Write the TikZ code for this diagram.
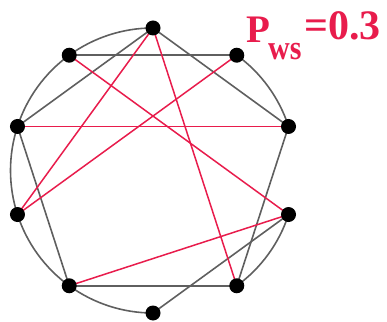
\documentclass[tikz,border=0pt]{standalone}
\usepackage{fontspec}
\setmainfont{Liberation Serif}
\usetikzlibrary{calc}
\definecolor{wsred}{RGB}{232,28,76}
\definecolor{wsgray}{RGB}{95,95,95}
\begin{document}
\begin{tikzpicture}[x=1pt,y=1pt,
  ring/.style={draw=wsgray,line width=1.6pt},
  rewired/.style={draw=wsred,line width=1.5pt},
  dot/.style={circle,fill=black,inner sep=0pt,minimum size=15pt},
  label/.style={text=wsred,inner sep=0pt,anchor=base west,font=\bfseries}]
\useasboundingbox (0,0) rectangle (387,321);
\coordinate (c) at (153,150.5);
\foreach \i/\a in {0/90,1/54,2/18,3/-18,4/-54,5/-90,6/-126,7/-162,8/162,9/126}
  \coordinate (n\i) at ($(c)+(\a:142.5)$);
% ring arcs
\draw[ring] (n9) arc[start angle=126,end angle=90,radius=142.5];
\draw[ring] (n8) arc[start angle=162,end angle=126,radius=142.5];
\draw[ring] (n7) arc[start angle=198,end angle=162,radius=142.5];
\draw[ring] (n6) arc[start angle=234,end angle=198,radius=142.5];
\draw[ring] (n5) arc[start angle=270,end angle=234,radius=142.5];
\draw[ring] (n1) arc[start angle=54,end angle=18,radius=142.5];
\draw[ring] (n3) arc[start angle=-18,end angle=-54,radius=142.5];
% straight ring edges
\draw[ring] (n9) -- (n1);
\draw[ring] (n0) -- (n2);
\draw[ring] (n0) -- (n8);
\draw[ring] (n8) -- (n6);
\draw[ring] (n6) -- (n4);
\draw[ring] (n5) -- (n3);
\draw[ring] (n2) -- (n4);
% rewired edges
\draw[rewired] (n0) -- (n7);
\draw[rewired] (n0) -- (n4);
\draw[rewired] (n9) -- (n3);
\draw[rewired] (n1) -- (n7);
\draw[rewired] (n8) -- (n2);
\draw[rewired] (n6) -- (n3);
% vertices
\foreach \i in {0,...,9} \node[dot] (v\i) at (n\i) {};
% label
\node[label,font=\bfseries\fontsize{39}{39}\selectfont] (tp) at (246,278) {P};
\node[label,font=\bfseries\fontsize{30}{30}\selectfont] (tws) at (268,261) {\scalebox{1}[1.15]{ws}};
\node[label,font=\bfseries\fontsize{42}{42}\selectfont] (tval) at (304,281) {=0.3};
\end{tikzpicture}
\end{document}
